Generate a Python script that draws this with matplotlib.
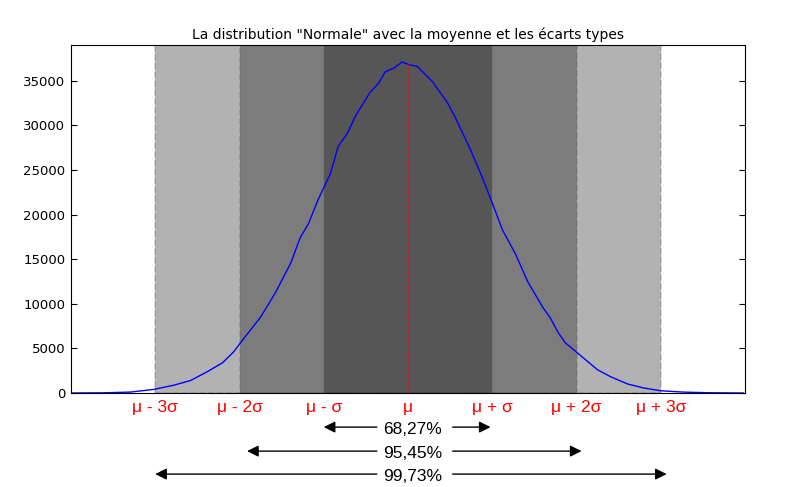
import numpy as np
import matplotlib
matplotlib.use("Agg")
import matplotlib.pyplot as plt

# moyenne et écart type (en unités de sigma)
mu = 0.0
sigma = 1.0

x_vals = [-4.01, -3.62, -3.30, -3.02, -2.79, -2.58, -2.38, -2.20, -2.07, -1.95,
          -1.75, -1.57, -1.39, -1.28, -1.18, -1.07, -0.92, -0.83, -0.72, -0.62,
          -0.45, -0.35, -0.27, -0.17, -0.07, 0.01, 0.11, 0.29, 0.47, 0.56,
          0.74, 0.88, 1.00, 1.12, 1.28, 1.42, 1.60, 1.69, 1.78, 1.87,
          2.01, 2.25, 2.41, 2.61, 2.80, 3.00, 3.27, 3.56, 3.98]
counts = [0, 20, 100, 400, 850, 1400, 2400, 3400, 4600, 6100,
          8500, 11300, 14600, 17400, 19000, 21600, 24600, 27600, 29100, 31100,
          33700, 34700, 36000, 36400, 37100, 36800, 36600, 34900, 32500, 30900,
          27300, 24200, 21300, 18300, 15500, 12500, 9600, 8400, 6800, 5600,
          4500, 2600, 1800, 1000, 560, 250, 100, 30, 0]

tick_labels = ["μ - 3σ", "μ - 2σ", "μ - σ", "μ", "μ + σ", "μ + 2σ", "μ + 3σ"]
pourcentages = ["68,27%", "95,45%", "99,73%"]

fig = plt.figure(figsize=(8, 4.87), dpi=100)
ax = fig.add_axes([71 / 800, 1 - 393 / 487, 674 / 800, 348 / 487])

# zones +/- k sigma
for k in (3, 2, 1):
    ax.axvspan(mu - k * sigma, mu + k * sigma, facecolor="k", edgecolor="0.35",
               alpha=0.3, linestyle="--", linewidth=1.2)

ax.plot(x_vals, counts, "b-", linewidth=1)
ax.vlines(mu, 0, max(counts), colors="r", linestyles="--", alpha=0.55, linewidth=1)

ax.set_xlim(mu - 4 * sigma, mu + 4 * sigma)
ax.set_ylim(0, 39000)
ax.set_yticks(range(0, 35001, 5000))
ax.tick_params(axis="y", direction="in", length=4, right=True, labelsize=9.5, pad=4)
ax.set_xticks([mu + k * sigma for k in range(-3, 4)])
ax.set_xticklabels(tick_labels, color="r", fontsize=12.5, family="Liberation Sans")
ax.tick_params(axis="x", length=0, pad=5)
ax.set_title('La distribution "Normale" avec la moyenne et les écarts types',
             fontsize=10, pad=4)

# flèches sous le graphique
y_rows = [-0.098, -0.167, -0.233]
tips_left = [-1.0, -1.91, -3.0]
tips_right = [0.98, 2.06, 3.07]
for txt, yr, tl, tr in zip(pourcentages, y_rows, tips_left, tips_right):
    ax.text(mu + 0.05, yr - 0.008, txt, transform=ax.get_xaxis_transform(),
            ha="center", va="center", fontsize=12.5, family="Liberation Sans")
    for start, tip in ((-0.37, tl), (0.53, tr)):
        ax.annotate("", xy=(mu + tip * sigma, yr), xycoords=ax.get_xaxis_transform(),
                    xytext=(mu + start * sigma, yr), textcoords=ax.get_xaxis_transform(),
                    arrowprops=dict(arrowstyle="-|>", color="k", lw=1,
                                    mutation_scale=17, shrinkA=0, shrinkB=0),
                    annotation_clip=False)

fig.savefig("out.png", dpi=100)
